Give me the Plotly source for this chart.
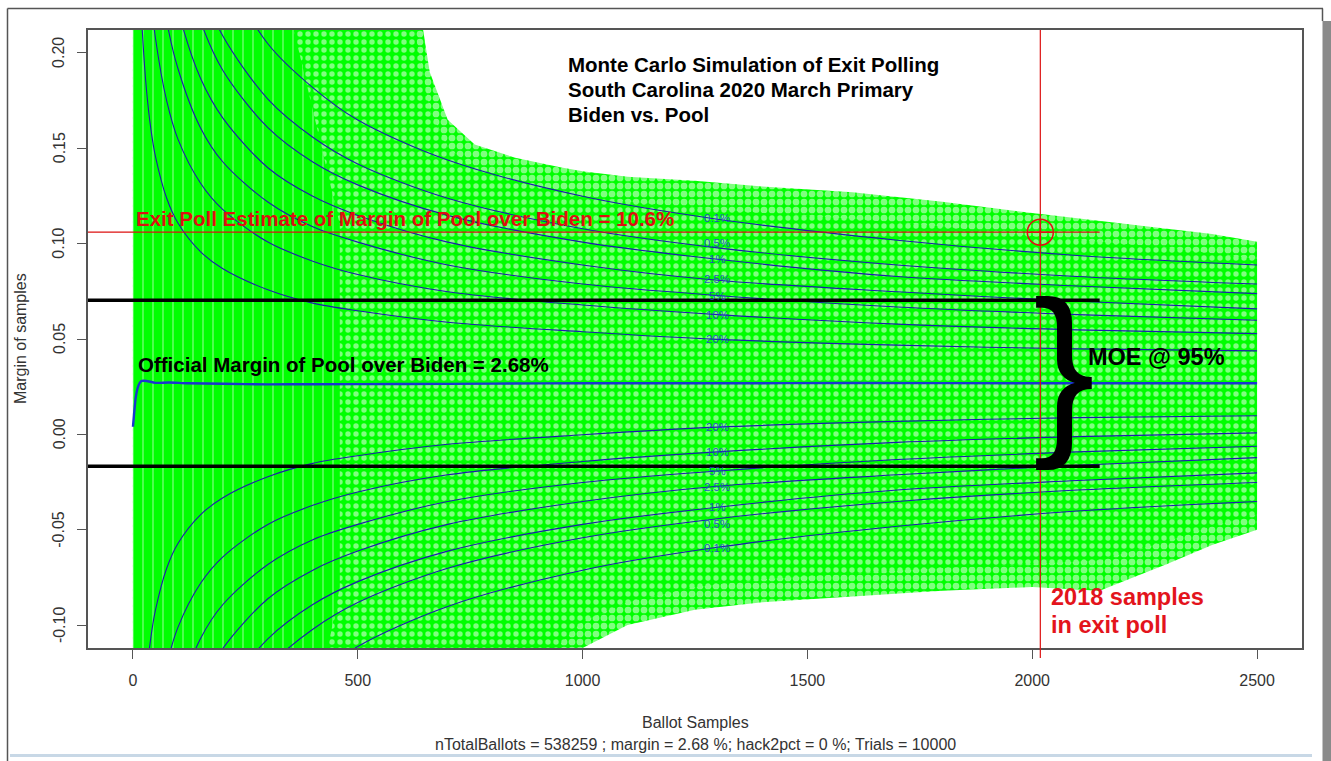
import plotly.graph_objects as go

# ---------------- data ----------------
x_tick_vals = [0, 500, 1000, 1500, 2000, 2500]
x_tick_text = ["0", "500", "1000", "1500", "2000", "2500"]
y_tick_vals = [-0.10, -0.05, 0.00, 0.05, 0.10, 0.15, 0.20]
y_tick_text = ["-0.10", "-0.05", "0.00", "0.05", "0.10", "0.15", "0.20"]

official_margin = 0.0268
exit_poll_margin = 0.106
exit_poll_samples = 2018
moe_upper = 0.0703
moe_lower = -0.0167
ref_lines_x_start = -100
ref_lines_x_end = 2150

# outer envelope of the simulated (green) sample paths
envelope_x = [0, 550, 620, 660, 700, 760, 850, 950, 1000, 1100, 1250, 1400, 1600, 1800, 2000, 2150, 2300, 2400, 2500]
envelope_upper = [0.30, 0.30, 0.25, 0.19, 0.165, 0.152, 0.145, 0.140, 0.138, 0.135, 0.133, 0.130, 0.127, 0.122, 0.116, 0.112, 0.108, 0.105, 0.101]
envelope_lower = [-0.30, -0.30, -0.30, -0.30, -0.30, -0.30, -0.30, -0.13, -0.112, -0.100, -0.092, -0.088, -0.085, -0.082, -0.080, -0.082, -0.068, -0.058, -0.050]

# denser core of the sample paths
core_x = [0, 550, 620, 660, 700, 760, 850, 950, 1000, 1100, 1250, 1400, 1600, 1800, 2000, 2150, 2300, 2400, 2500]
core_upper = [0.30, 0.30, 0.22, 0.17, 0.150, 0.140, 0.133, 0.128, 0.125, 0.122, 0.119, 0.116, 0.113, 0.109, 0.104, 0.101, 0.098, 0.095, 0.092]
core_lower = [-0.30, -0.30, -0.30, -0.30, -0.30, -0.30, -0.20, -0.110, -0.098, -0.088, -0.080, -0.076, -0.073, -0.070, -0.068, -0.066, -0.056, -0.048, -0.042]

# early region (almost solid green with vertical streaks)
dense_x = [0, 220, 320, 400, 460]
dense_upper = [0.30, 0.30, 0.25, 0.17, 0.11]
dense_lower = [-0.30, -0.30, -0.25, -0.15, -0.08]

# quantile curves: half-width around the official margin
quantile_x = [15, 20, 30, 40, 50, 75, 100, 150, 200, 300, 400, 500, 700, 1000, 1300, 1700, 2100, 2500]
quantile_labels = ["0.1%", "0.5%", "1%", "2.5%", "5%", "10%", "20%"]
label_shift_px = [1, 5, 0, 1, 0, 0, 0]
hw_0_1 = [0.798, 0.691, 0.564, 0.489, 0.437, 0.357, 0.309, 0.252, 0.218, 0.178, 0.155, 0.138, 0.117, 0.098, 0.086, 0.075, 0.067, 0.062]
hw_0_5 = [0.665, 0.576, 0.470, 0.407, 0.364, 0.297, 0.258, 0.210, 0.182, 0.149, 0.129, 0.115, 0.097, 0.081, 0.071, 0.062, 0.056, 0.052]
hw_1 = [0.601, 0.520, 0.425, 0.368, 0.329, 0.269, 0.233, 0.190, 0.164, 0.134, 0.116, 0.104, 0.088, 0.074, 0.065, 0.056, 0.051, 0.047]
hw_2_5 = [0.506, 0.438, 0.358, 0.310, 0.277, 0.226, 0.196, 0.160, 0.139, 0.113, 0.098, 0.088, 0.074, 0.062, 0.054, 0.048, 0.043, 0.039]
hw_5 = [0.425, 0.368, 0.300, 0.260, 0.233, 0.190, 0.165, 0.134, 0.116, 0.095, 0.082, 0.074, 0.062, 0.052, 0.046, 0.040, 0.036, 0.033]
hw_10 = [0.331, 0.287, 0.234, 0.203, 0.181, 0.148, 0.128, 0.105, 0.091, 0.074, 0.064, 0.057, 0.048, 0.041, 0.036, 0.031, 0.028, 0.026]
hw_20 = [0.217, 0.188, 0.154, 0.133, 0.119, 0.097, 0.084, 0.069, 0.060, 0.049, 0.042, 0.038, 0.032, 0.027, 0.023, 0.020, 0.018, 0.017]
label_x = 1300

# mean simulated margin (thick blue line)
center_x = [0, 3, 6, 10, 15, 20, 30, 50, 80, 120, 200, 300, 400, 600, 800, 1000, 1300, 1600, 2000, 2500]
center_y = [0.004, 0.012, 0.019, 0.024, 0.027, 0.028, 0.028, 0.027, 0.0272, 0.0268, 0.0265, 0.0262, 0.0263, 0.0264, 0.0266, 0.0268, 0.0268, 0.0269, 0.0268, 0.0268]

# ---------------- figure ----------------
W, H = 1331, 761
ML, MR, MT, MB = 88, 29, 30, 113
PW, PH = W - ML - MR, H - MT - MB


def px_x(p):
    return (p - ML) / PW


def px_y(p):
    return (H - MB - p) / PH


GREEN = "#00ff00"
FONT = "Liberation Sans, Arial, sans-serif"

fig = go.Figure()


def band(xs, up, lo, pattern):
    fig.add_trace(go.Scatter(
        x=xs + xs[::-1], y=up + lo[::-1],
        mode="lines", fill="toself", line=dict(width=0),
        fillcolor=GREEN, fillpattern=pattern,
        hoverinfo="skip", showlegend=False))


# green simulated paths (green mesh with white holes)
band(envelope_x, envelope_upper, envelope_lower,
     dict(shape=".", fgcolor="white", bgcolor=GREEN, size=8, solidity=0.55))
band(core_x, core_upper, core_lower,
     dict(shape=".", fgcolor="white", bgcolor=GREEN, size=8, solidity=0.36))
band(dense_x, dense_upper, dense_lower,
     dict(shape="|", fgcolor="white", bgcolor=GREEN, size=10, solidity=0.12))

# quantile curves
hws = [hw_0_1, hw_0_5, hw_1, hw_2_5, hw_5, hw_10, hw_20]
li = quantile_x.index(label_x)
for lab, hw, sh in zip(quantile_labels, hws, label_shift_px):
    for sgn in (1, -1):
        yy = [official_margin + sgn * h for h in hw]
        fig.add_trace(go.Scatter(
            x=quantile_x, y=yy, mode="lines",
            line=dict(color="#1c1cae", width=1.1, shape="spline", smoothing=0.9),
            hoverinfo="skip", showlegend=False))
        fig.add_annotation(x=label_x, y=yy[li], text=lab, showarrow=False,
                           xanchor="center", yanchor="middle", yshift=sgn * sh,
                           font=dict(family=FONT, size=11.5, color="rgba(35,65,205,0.9)"))

# mean line
fig.add_trace(go.Scatter(
    x=center_x, y=center_y, mode="lines",
    line=dict(color="#1a36d0", width=2.4, shape="spline", smoothing=0.6),
    hoverinfo="skip", showlegend=False))

# reference lines
fig.add_trace(go.Scatter(
    x=[ref_lines_x_start, ref_lines_x_end], y=[exit_poll_margin, exit_poll_margin],
    mode="lines", line=dict(color="#dd1111", width=1.2), hoverinfo="skip", showlegend=False))
for yv in (moe_upper, moe_lower):
    fig.add_trace(go.Scatter(
        x=[ref_lines_x_start, ref_lines_x_end], y=[yv, yv],
        mode="lines", line=dict(color="black", width=3.5), hoverinfo="skip", showlegend=False))

fig.add_shape(type="line", xref="x", yref="paper", x0=exit_poll_samples, x1=exit_poll_samples,
              y0=-0.016, y1=1, line=dict(color="#dd1111", width=1.2))

fig.add_trace(go.Scatter(
    x=[exit_poll_samples], y=[exit_poll_margin], mode="markers",
    marker=dict(symbol="circle-cross-open", size=26, color="#e01010", line=dict(width=1.5, color="#e01010")),
    hoverinfo="skip", showlegend=False))

# text annotations
title_lines = ["Monte Carlo Simulation of Exit Polling", "South Carolina 2020 March Primary", "Biden vs. Pool"]
for i, t in enumerate(title_lines):
    fig.add_annotation(xref="paper", yref="paper", x=px_x(566), y=px_y(64 + 25 * i), text=t,
                       showarrow=False, xanchor="left", yanchor="middle",
                       font=dict(family=FONT, size=20.5, color="black", weight="bold"))

fig.add_annotation(xref="paper", yref="paper", x=px_x(134), y=px_y(218),
                   text="Exit Poll Estimate of Margin of Pool over Biden = 10.6%",
                   showarrow=False, xanchor="left", yanchor="middle",
                   font=dict(family=FONT, size=20.5, color="#dd1010", weight="bold"))
fig.add_annotation(xref="paper", yref="paper", x=px_x(136), y=px_y(364),
                   text="Official Margin of Pool over Biden = 2.68%",
                   showarrow=False, xanchor="left", yanchor="middle",
                   font=dict(family=FONT, size=20.5, color="black", weight="bold"))
fig.add_annotation(xref="paper", yref="paper", x=px_x(1086), y=px_y(357),
                   text="MOE @ 95%", showarrow=False, xanchor="left", yanchor="middle",
                   font=dict(family=FONT, size=23.5, color="black", weight="bold"))
fig.add_annotation(xref="paper", yref="paper", x=px_x(1064), y=px_y(366),
                   text="}", showarrow=False, xanchor="center", yanchor="middle",
                   font=dict(family=FONT, size=186, color="black"))
fig.add_annotation(xref="paper", yref="paper", x=px_x(1049), y=px_y(597),
                   text="2018 samples", showarrow=False, xanchor="left", yanchor="middle",
                   font=dict(family=FONT, size=23.5, color="#e3141c", weight="bold"))
fig.add_annotation(xref="paper", yref="paper", x=px_x(1049), y=px_y(625),
                   text="in exit poll", showarrow=False, xanchor="left", yanchor="middle",
                   font=dict(family=FONT, size=23.5, color="#e3141c", weight="bold"))

# y tick labels (rotated, R style)
for v, t in zip(y_tick_vals, y_tick_text):
    fig.add_annotation(xref="paper", yref="y", x=px_x(59), y=v, text=t, showarrow=False,
                       xanchor="center", yanchor="middle", textangle=-90,
                       font=dict(family=FONT, size=16, color="#333333"))

# axis titles
fig.add_annotation(xref="paper", yref="paper", x=0.5, y=px_y(722), text="Ballot Samples",
                   showarrow=False, xanchor="center", yanchor="middle",
                   font=dict(family=FONT, size=16, color="#333333"))
fig.add_annotation(xref="paper", yref="paper", x=0.5, y=px_y(744),
                   text="nTotalBallots = 538259 ; margin = 2.68 %; hack2pct = 0 %; Trials = 10000",
                   showarrow=False, xanchor="center", yanchor="middle",
                   font=dict(family=FONT, size=16, color="#333333"))
fig.add_annotation(xref="paper", yref="paper", x=px_x(20), y=0.5, text="Margin of samples",
                   showarrow=False, xanchor="center", yanchor="middle", textangle=-90,
                   font=dict(family=FONT, size=16, color="#333333"))

# page frame
frame = "#555555"
fig.add_shape(type="line", xref="paper", yref="paper", x0=px_x(7.5), x1=px_x(1323), y0=px_y(8.5), y1=px_y(8.5),
              line=dict(color=frame, width=1.5))
fig.add_shape(type="line", xref="paper", yref="paper", x0=px_x(7.5), x1=px_x(7.5), y0=px_y(8.5), y1=px_y(761),
              line=dict(color=frame, width=1.5))
fig.add_shape(type="line", xref="paper", yref="paper", x0=px_x(1322.5), x1=px_x(1322.5), y0=px_y(8.5), y1=px_y(21),
              line=dict(color=frame, width=1.5))
fig.add_shape(type="rect", xref="paper", yref="paper", x0=px_x(1322.5), x1=px_x(1331), y0=px_y(21), y1=px_y(761),
              line=dict(width=0), fillcolor="#8a8a8a")
fig.add_shape(type="line", xref="paper", yref="paper", x0=px_x(10), x1=px_x(1312), y0=px_y(755.5), y1=px_y(755.5),
              line=dict(color="#c8d8e6", width=3))

axis_common = dict(showgrid=False, zeroline=False, showline=True, mirror=True,
                   linecolor="#555555", linewidth=1.5, ticks="outside", ticklen=9,
                   tickcolor="#555555", tickwidth=1.2,
                   tickfont=dict(family=FONT, size=16, color="#333333"))

fig.update_layout(
    width=W, height=H,
    margin=dict(l=ML, r=MR, t=MT, b=MB),
    paper_bgcolor="white", plot_bgcolor="white",
    showlegend=False,
    xaxis=dict(range=[-100, 2600], tickvals=x_tick_vals, ticktext=x_tick_text,
               ticklabelstandoff=8, **axis_common),
    yaxis=dict(range=[-0.112, 0.212], tickvals=y_tick_vals, ticktext=y_tick_text,
               showticklabels=False, **axis_common),
)

fig.write_html("out.html", config={"displayModeBar": False},
               post_script="document.body.style.margin='0px';document.body.style.overflow='hidden';")
